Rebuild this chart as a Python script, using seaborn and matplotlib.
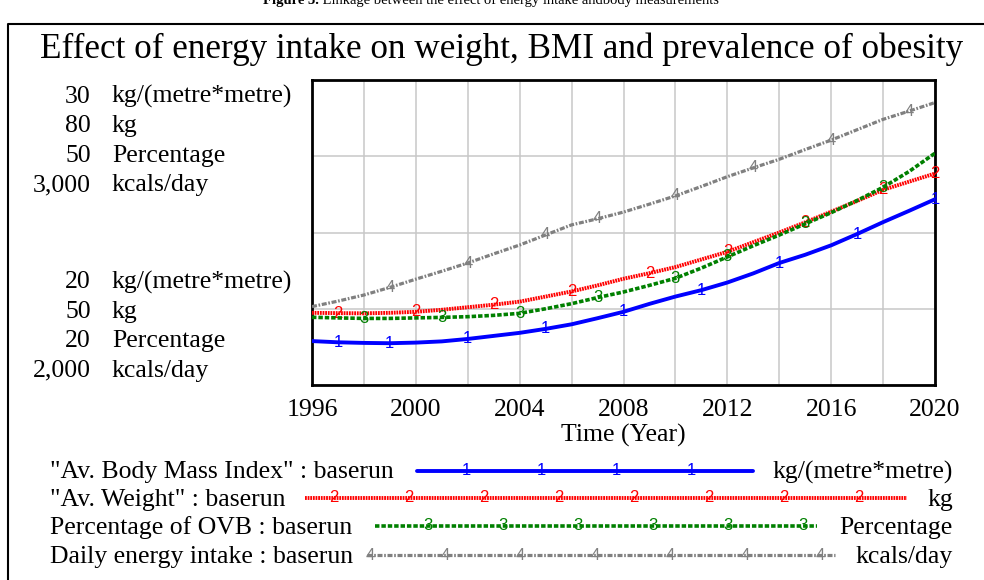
import matplotlib
matplotlib.use("Agg")
import matplotlib.pyplot as plt
import seaborn as sns

# ---- data -------------------------------------------------------------
years = list(range(1996, 2021))

bmi = [21.44, 21.40, 21.38, 21.37, 21.39, 21.43, 21.51, 21.61, 21.71, 21.84,
       21.99, 22.19, 22.40, 22.66, 22.90, 23.11, 23.36, 23.66, 24.00, 24.27,
       24.58, 24.95, 25.34, 25.71, 26.09]

weight = [57.10, 57.07, 57.05, 57.10, 57.20, 57.40, 57.65, 57.90, 58.20, 58.70,
          59.20, 59.80, 60.45, 61.00, 61.60, 62.35, 63.10, 64.05, 65.00, 66.00,
          67.05, 68.10, 69.20, 70.00, 70.80]

ovb_pct = [26.66, 26.60, 26.55, 26.55, 26.60, 26.65, 26.72, 26.85, 27.05, 27.50,
           28.00, 28.60, 29.15, 29.80, 30.50, 31.50, 32.60, 33.70, 34.75, 35.85,
           36.95, 38.15, 39.45, 41.00, 42.80]

energy = [2257, 2275, 2295, 2320, 2347, 2373, 2400, 2430, 2459, 2492,
          2525, 2545, 2567, 2593, 2620, 2651, 2683, 2712, 2740, 2772,
          2803, 2837, 2871, 2898, 2926]

series_labels = ['"Av. Body Mass Index" : baserun',
                 '"Av. Weight" : baserun',
                 'Percentage of OVB : baserun',
                 'Daily energy intake : baserun']
units = ["kg/(metre*metre)", "kg", "Percentage", "kcals/day"]
scale_low = [20, 50, 20, 2000]
scale_high = [30, 80, 50, 3000]
low_tick_labels = ["20", "50", "20", "2,000"]
high_tick_labels = ["30", "80", "50", "3,000"]
marker_digits = ["1", "2", "3", "4"]
marker_years = [
    [1997, 1999, 2002, 2005, 2008, 2011, 2014, 2017, 2020],
    [1997, 2000, 2003, 2006, 2009, 2012, 2015, 2018, 2020],
    [1998, 2001, 2004, 2007, 2010, 2012, 2015, 2018],
    [1999, 2002, 2005, 2007, 2010, 2013, 2016, 2019],
]
year_ticks = list(range(1996, 2021, 2))
year_labels = [str(y) if (y - 1996) % 4 == 0 else "" for y in year_ticks]

# ---- styling ----------------------------------------------------------
sns.set_theme(style="white")
plt.rcParams["font.family"] = ["Liberation Serif", "DejaVu Serif"]
plt.rcParams["lines.scale_dashes"] = False

colors = ["#0000ff", "#ff0000", "#008000", "#808080"]
widths = [2.8, 2.8, 2.6, 2.3]
dashes = [None, (1.3, 0.6), (3.2, 1.4), (3.6, 1.2, 1.2, 1.2)]
serif = "Liberation Serif"
sans = "Liberation Sans"
big = 18.5
digit_size = 12

W, H = 984, 580
fig = plt.figure(figsize=(W / 100, H / 100), dpi=100)
fig.patch.set_facecolor("white")

# pixel-space layer for the surrounding text
ov = fig.add_axes([0, 0, 1, 1], zorder=-1)
ov.set_xlim(0, W)
ov.set_ylim(H, 0)
ov.axis("off")

# plotting frame
L, R, T, B = 312, 935, 80, 385
ax = fig.add_axes([L / W, (H - B) / H, (R - L) / W, (B - T) / H])
ax.set_facecolor("white")

values = [bmi, weight, ovb_pct, energy]
axes = [ax]
for i in range(1, 4):
    t = ax.twinx()
    t.axis("off")
    axes.append(t)

for i, (a, vals) in enumerate(zip(axes, values)):
    sns.lineplot(x=years, y=vals, ax=a, color=colors[i], linewidth=widths[i],
                 legend=False, zorder=3)
    line = a.lines[-1]
    if dashes[i] is not None:
        line.set_dashes(dashes[i])
    line.set_dash_capstyle("butt")
    a.set_xlim(1996, 2020)
    a.set_ylim(scale_low[i], scale_high[i])
    for yr in marker_years[i]:
        v = vals[years.index(yr)]
        a.text(yr, v, marker_digits[i], color=colors[i], family=sans,
               fontsize=digit_size, ha="center", va="center", zorder=4)

ax.set_xticks(year_ticks)
ax.set_xticklabels(year_labels, fontsize=big, family=serif, color="black")
ax.set_yticks([scale_low[0] + k * (scale_high[0] - scale_low[0]) / 4 for k in range(5)])
ax.set_yticklabels([])
ax.tick_params(axis="both", length=0, pad=10)
ax.grid(True, color="#c8c8c8", linewidth=1.1)
for s in ax.spines.values():
    s.set_visible(True)
    s.set_color("black")
    s.set_linewidth(2.0)
ax.set_xlabel("Time (Year)", fontsize=big, family=serif, color="black", labelpad=2)
ax.set_ylabel("")

# outer box
ov.plot([8, 8, W + 10], [H + 10, 24, 24], color="black", lw=1.5, clip_on=False)

# caption (partly above the canvas)
cap = ov.text(319, 4, "Figure 3.", fontsize=10.5, family=serif, weight="bold",
              ha="right", va="baseline", color="black")
ov.annotate(" Linkage between the effect of energy intake andbody measurements",
            xy=(1, 0), xycoords=cap, fontsize=10.5, family=serif,
            ha="left", va="bottom", color="black")

# title
ov.text(502, 58, "Effect of energy intake on weight, BMI and prevalence of obesity",
        fontsize=25.3, family=serif, ha="center", va="baseline", color="black")

# scale labels at left of frame
top_base = [102.7, 132.3, 161.7, 191.0]
bot_base = [288.3, 317.7, 347.3, 376.7]
for i in range(4):
    ov.text(91, top_base[i], high_tick_labels[i], fontsize=big, family=serif,
            ha="right", va="baseline", color="black")
    ov.text(112, top_base[i], units[i], fontsize=big, family=serif,
            ha="left", va="baseline", color="black")
    ov.text(91, bot_base[i], low_tick_labels[i], fontsize=big, family=serif,
            ha="right", va="baseline", color="black")
    ov.text(112, bot_base[i], units[i], fontsize=big, family=serif,
            ha="left", va="baseline", color="black")

# key below the plot
key_y = [470.7, 497.5, 526.0, 555.0]
key_base = [478.3, 506.0, 534.3, 562.7]
key_x0 = [417, 305, 375, 367]
key_x1 = [753, 907, 817, 835]
key_first = [466, 334, 428, 370]
key_count = [4, 8, 6, 7]
for i in range(4):
    ov.text(50, key_base[i], series_labels[i], fontsize=big, family=serif,
            ha="left", va="baseline", color="black")
    ov.text(953, key_base[i], units[i], fontsize=big, family=serif,
            ha="right", va="baseline", color="black")
    ln, = ov.plot([key_x0[i], key_x1[i]], [key_y[i], key_y[i]], color=colors[i],
                  lw=widths[i])
    if dashes[i] is not None:
        ln.set_dashes(dashes[i])
    ln.set_dash_capstyle("butt")
    for k in range(key_count[i]):
        ov.text(key_first[i] + 75 * k, key_y[i], marker_digits[i], color=colors[i],
                family=sans, fontsize=digit_size, ha="center", va="center")

fig.savefig("out.png", dpi=100)
